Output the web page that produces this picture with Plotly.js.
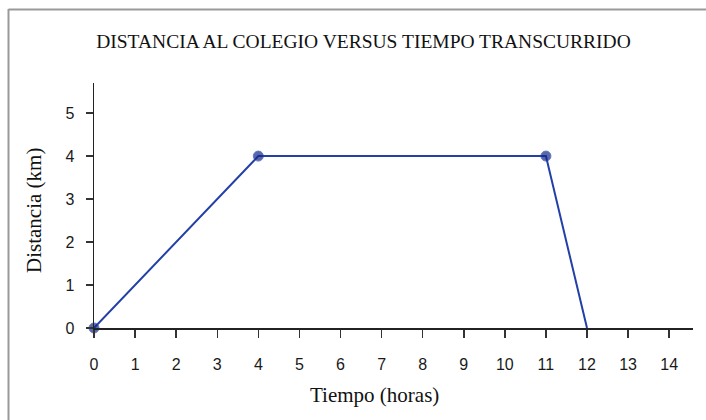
<!DOCTYPE html>
<html>
<head>
<meta charset="utf-8">
<script src="https://cdn.plot.ly/plotly-3.0.1.min.js"></script>
<style>html,body{margin:0;padding:0;background:#fff;}#chart{width:706px;height:420px;}</style>
</head>
<body>
<div id="chart"></div>
<script>
// Data
const tiempo = [0, 4, 11, 12];
const distancia = [0, 4, 4, 0];
const marcado = [true, true, true, false];
const xTicks = [0,1,2,3,4,5,6,7,8,9,10,11,12,13,14];
const yTicks = [0,1,2,3,4,5];

const titulo = 'DISTANCIA AL COLEGIO VERSUS TIEMPO TRANSCURRIDO';
const tituloX = 'Tiempo (horas)';
const tituloY = 'Distancia (km)';

const lineColor = '#2240a8';
const markerColor = '#142888';
const W = 706, H = 420;
const L = 94, R = 13, T = 83, B = 92;
const pw = W - L - R, ph = H - T - B;

const trace = {
  x: tiempo, y: distancia, type: 'scatter', mode: 'lines+markers',
  line: {color: lineColor, width: 2},
  marker: {color: markerColor, size: marcado.map(m => m ? 10 : 0)},
  cliponaxis: false, hoverinfo: 'none'
};

const tickFont = {family: 'Liberation Sans, Arial, sans-serif', size: 16, color: '#1a1a1a'};
const serif = 'Liberation Serif, Times New Roman, serif';

const layout = {
  width: W, height: H,
  margin: {l: L, r: R, t: T, b: B, pad: 0},
  paper_bgcolor: '#fff', plot_bgcolor: '#fff',
  showlegend: false,
  title: {text: titulo, font: {family: serif, size: 19.5, color: '#111'},
          xref: 'container', yref: 'container', x: 363.5/W, xanchor: 'center', y: 1 - 41/H, yanchor: 'middle'},
  xaxis: {range: [0, 14.58], tickmode: 'array', tickvals: xTicks, ticktext: xTicks.map(String),
          showgrid: false, zeroline: false, showline: true, linecolor: '#222', linewidth: 1.5,
          ticks: 'outside', ticklen: 8, tickwidth: 1.5, tickcolor: '#333', tickfont: tickFont,
          ticklabelstandoff: 13, fixedrange: true},
  yaxis: {range: [0, 5.7], tickmode: 'array', tickvals: yTicks, ticktext: yTicks.map(String),
          showgrid: false, zeroline: false, showline: true, linecolor: '#222', linewidth: 1.5,
          ticks: 'outside', ticklen: 7, tickwidth: 1.5, tickcolor: '#333', tickfont: tickFont,
          ticklabelstandoff: 8, fixedrange: true},
  annotations: [
    {text: tituloX, xref: 'paper', yref: 'paper', x: (374 - L)/pw, y: -(395 - (T+ph))/ph,
     xanchor: 'center', yanchor: 'middle', showarrow: false, font: {family: serif, size: 21, color: '#111'}},
    {text: tituloY, xref: 'paper', yref: 'paper', x: (34 - L)/pw, y: (T + ph - 211)/ph,
     xanchor: 'center', yanchor: 'middle', textangle: -90, showarrow: false, font: {family: serif, size: 21, color: '#111'}}
  ],
  shapes: [
    {type: 'line', xref: 'paper', yref: 'paper', x0: (8.5 - L)/pw, x1: (8.5 - L)/pw, y0: (T+ph-9)/ph, y1: -2,
     line: {color: '#999', width: 2}, layer: 'below'},
    {type: 'line', xref: 'paper', yref: 'paper', x0: (8.5 - L)/pw, x1: 3, y0: (T+ph-9.5)/ph, y1: (T+ph-9.5)/ph,
     line: {color: '#999', width: 2}, layer: 'below'}
  ]
};

Plotly.newPlot('chart', [trace], layout, {staticPlot: true, displayModeBar: false});
</script>
</body>
</html>
